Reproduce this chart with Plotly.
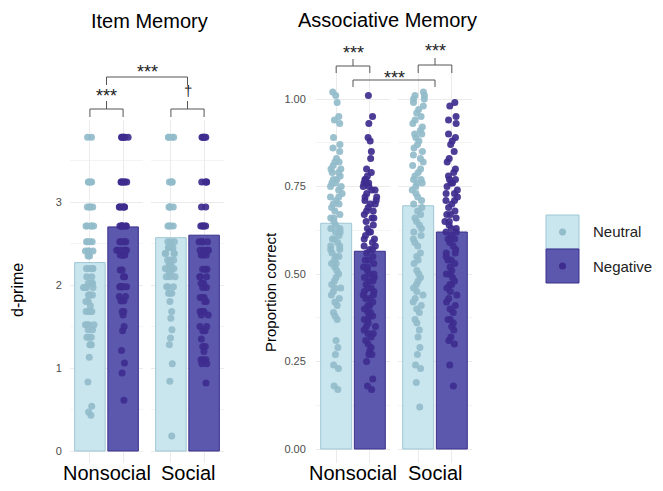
import plotly.graph_objects as go

W, H = 663, 491

# ---------------- data ----------------
valences = ["Neutral", "Negative"]
social_conditions = ["Nonsocial", "Social"]

# bar heights (means)
item_mean_nonsocial = [2.27, 2.70]
item_mean_social = [2.57, 2.60]
assoc_mean_nonsocial = [0.645, 0.565]
assoc_mean_social = [0.695, 0.620]

# individual participants: item memory (d-prime)
item_nonsocial_neutral = [3.78, 3.78, 3.24, 3.24, 3.24, 3.24, 2.94, 2.94, 2.94, 2.94,
                          2.71, 2.71, 2.71, 2.71, 2.71, 2.52, 2.52, 2.52, 2.52,
                          2.41, 2.41, 2.41, 2.41, 2.35, 2.35, 2.20, 2.20, 2.20, 2.20,
                          2.10, 2.10, 2.02, 2.02, 2.02, 1.97, 1.97, 1.97, 1.97,
                          1.88, 1.88, 1.88, 1.88, 1.80, 1.80, 1.75, 1.68, 1.68, 1.68, 1.68,
                          1.52, 1.52, 1.52, 1.52, 1.46, 1.46, 1.37, 1.37, 1.37,
                          1.28, 1.28, 1.28, 1.13, 0.83, 0.54, 0.47, 0.43]
item_nonsocial_negative = [3.78, 3.78, 3.78, 3.78, 3.78, 3.78, 3.24, 3.24, 3.24, 3.24, 3.24, 3.24,
                           2.94, 2.94, 2.94, 2.94, 2.94, 2.94, 2.71, 2.71, 2.71, 2.71, 2.71, 2.71, 2.71,
                           2.52, 2.52, 2.52, 2.52, 2.52, 2.42, 2.42, 2.42, 2.42, 2.42, 2.42,
                           2.36, 2.36, 2.36, 2.36, 2.36, 2.18, 2.18, 2.10, 2.10,
                           1.98, 1.98, 1.98, 1.98, 1.98, 1.98, 1.86, 1.86, 1.81, 1.81, 1.81,
                           1.68, 1.68, 1.64, 1.50, 1.45, 1.21, 1.06, 0.94, 0.61]
item_social_neutral = [3.78, 3.78, 3.78, 3.78, 3.24, 3.24, 3.24, 3.24, 2.94, 2.94, 2.94, 2.94,
                       2.71, 2.71, 2.71, 2.71, 2.52, 2.52, 2.52, 2.45, 2.45, 2.45, 2.45,
                       2.38, 2.38, 2.38, 2.38, 2.30, 2.30, 2.30, 2.25, 2.25,
                       2.20, 2.20, 2.20, 2.20, 2.15, 2.15, 2.10, 2.10, 2.10,
                       1.98, 1.98, 1.98, 1.90, 1.90, 1.90, 1.80, 1.68, 1.60, 1.46,
                       1.36, 1.28, 1.05, 0.84, 0.18]
item_social_negative = [3.78, 3.78, 3.78, 3.78, 3.78, 3.24, 3.24, 3.24, 3.24, 2.94, 2.94,
                        2.71, 2.71, 2.71, 2.71, 2.71, 2.52, 2.52, 2.52, 2.52,
                        2.42, 2.42, 2.42, 2.42, 2.36, 2.36, 2.36, 2.19, 2.19, 2.19,
                        2.10, 2.10, 2.10, 2.02, 2.02, 1.97, 1.97, 1.85, 1.85, 1.85,
                        1.80, 1.80, 1.68, 1.68, 1.68, 1.68, 1.64, 1.64, 1.50, 1.50,
                        1.45, 1.45, 1.35, 1.26, 1.26, 1.20, 1.10, 1.10, 1.10, 1.05, 1.05, 0.82]

# individual participants: associative memory (proportion correct)
assoc_nonsocial_neutral = [1.02, 1.01, 0.99, 0.95, 0.94, 0.93, 0.89, 0.87, 0.86, 0.85,
                           0.83, 0.82, 0.82, 0.81, 0.80, 0.80, 0.79, 0.79,
                           0.78, 0.77, 0.77, 0.76, 0.76, 0.75, 0.75, 0.74,
                           0.73, 0.72, 0.72, 0.71, 0.70, 0.70, 0.69, 0.68,
                           0.67, 0.66, 0.66, 0.65, 0.64, 0.63, 0.63, 0.62, 0.62, 0.61,
                           0.60, 0.60, 0.59, 0.58, 0.58, 0.57, 0.57, 0.56,
                           0.55, 0.55, 0.54, 0.53, 0.53, 0.52, 0.51, 0.50,
                           0.49, 0.48, 0.47, 0.46, 0.46, 0.45, 0.44, 0.43, 0.42, 0.41,
                           0.39, 0.38, 0.37, 0.31, 0.29, 0.27, 0.24, 0.23, 0.18, 0.17]
assoc_nonsocial_negative = [1.01, 0.95, 0.93, 0.89, 0.88, 0.85, 0.83, 0.80, 0.79,
                            0.78, 0.77, 0.77, 0.76, 0.76, 0.76, 0.75, 0.75,
                            0.74, 0.74, 0.73, 0.72, 0.72, 0.71, 0.71, 0.70, 0.70, 0.69,
                            0.68, 0.68, 0.67, 0.66, 0.66, 0.65, 0.64, 0.63,
                            0.62, 0.62, 0.61, 0.60, 0.60,
                            0.59, 0.58, 0.58, 0.57, 0.57, 0.56, 0.55, 0.54,
                            0.54, 0.53, 0.52, 0.52, 0.51, 0.50, 0.50, 0.49, 0.49, 0.48,
                            0.48, 0.47, 0.46, 0.46, 0.45, 0.45, 0.44, 0.44, 0.43, 0.43,
                            0.42, 0.41, 0.41, 0.40, 0.39, 0.39, 0.38, 0.38, 0.37, 0.37,
                            0.36, 0.35, 0.35, 0.34, 0.33, 0.33, 0.32, 0.31,
                            0.30, 0.29, 0.28, 0.27, 0.27, 0.25, 0.20, 0.18, 0.17]
assoc_social_neutral = [1.02, 1.01, 1.01, 1.00, 1.00, 0.99, 0.98, 0.97, 0.96, 0.95, 0.94, 0.93,
                        0.92, 0.91, 0.90, 0.90, 0.89, 0.88, 0.87, 0.86, 0.85, 0.84, 0.83,
                        0.82, 0.81, 0.80, 0.79, 0.78, 0.77, 0.77, 0.76, 0.76, 0.75, 0.74,
                        0.73, 0.72, 0.71, 0.70, 0.69, 0.68, 0.67, 0.66, 0.65,
                        0.64, 0.63, 0.62, 0.61, 0.60, 0.59, 0.58, 0.56, 0.55, 0.54,
                        0.53, 0.51, 0.50, 0.49, 0.48, 0.47, 0.46, 0.45, 0.44, 0.43,
                        0.42, 0.41, 0.40, 0.39, 0.37, 0.36, 0.34, 0.32,
                        0.29, 0.27, 0.24, 0.23, 0.19, 0.12]
assoc_social_negative = [0.99, 0.98, 0.95, 0.94, 0.93, 0.90, 0.89, 0.88, 0.87, 0.85,
                         0.83, 0.82, 0.80, 0.79, 0.78, 0.77, 0.77, 0.76, 0.76, 0.75,
                         0.74, 0.73, 0.73, 0.72, 0.71, 0.71, 0.70, 0.69,
                         0.68, 0.67, 0.67, 0.66, 0.65, 0.65, 0.64, 0.63,
                         0.63, 0.62, 0.62, 0.61, 0.60, 0.60, 0.59, 0.58,
                         0.57, 0.56, 0.56, 0.55, 0.54, 0.54, 0.53, 0.52,
                         0.51, 0.50, 0.50, 0.49, 0.48, 0.47, 0.47, 0.46,
                         0.45, 0.44, 0.43, 0.42, 0.41, 0.40, 0.39, 0.37, 0.37, 0.36, 0.35,
                         0.34, 0.32, 0.31, 0.30, 0.24, 0.18]

# ---------------- style ----------------
FONT = "Liberation Sans, Arial, Helvetica, sans-serif"
BAR_FILL = {"Neutral": "#c9e6ef", "Negative": "#5b58ae"}
BAR_LINE = {"Neutral": "#9ec7d4", "Negative": "#3b308c"}
PT_COL = {"Neutral": "#93bccb", "Negative": "#3e2c8e"}
GRID = "#ebebeb"
GRID_MINOR = "#f4f4f4"
BRACKET = "#555555"

CAT_RANGE = [-0.6, 1.6]
# facet pixel extents (left, right)
FACET_PX = {"x": (70, 143), "x2": (151, 224), "x3": (316, 390), "x4": (398, 472)}
ITEM_Y_PX = (120, 463)   # top, bottom
ASSOC_Y_PX = (71, 463)
ITEM_RANGE = [-(463 - 451) / 83.0, (451 - 120) / 83.0]
ASSOC_RANGE = [-(463 - 449) / 350.0, (449 - 71) / 350.0]


def pxx(p):
    return p / W


def pxy(p):
    return 1 - p / H


def cat_x(ax, v):
    a, b = FACET_PX[ax]
    return pxx(a + (v - CAT_RANGE[0]) / (CAT_RANGE[1] - CAT_RANGE[0]) * (b - a))


fig = go.Figure()

panels = [
    ("x", "y", item_mean_nonsocial, [item_nonsocial_neutral, item_nonsocial_negative]),
    ("x2", "y", item_mean_social, [item_social_neutral, item_social_negative]),
    ("x3", "y2", assoc_mean_nonsocial, [assoc_nonsocial_neutral, assoc_nonsocial_negative]),
    ("x4", "y2", assoc_mean_social, [assoc_social_neutral, assoc_social_negative]),
]

for xa, ya, means, pts in panels:
    fig.add_trace(go.Bar(
        x=valences, y=means, xaxis=xa, yaxis=ya, width=0.92,
        marker=dict(color=[BAR_FILL[v] for v in valences],
                    line=dict(color=[BAR_LINE[v] for v in valences], width=1)),
        showlegend=False, hoverinfo="skip"))
for xa, ya, means, pts in panels:
    for v, vals in zip(valences, pts):
        fig.add_trace(go.Box(
            y=vals, x0=v, xaxis=xa, yaxis=ya, width=0.9,
            boxpoints="all", jitter=0.46, pointpos=0,
            fillcolor="rgba(0,0,0,0)", line=dict(width=0, color="rgba(0,0,0,0)"),
            marker=dict(color=PT_COL[v], size=7, opacity=0.92, line=dict(width=0)),
            showlegend=False, hoverinfo="y"))

xcommon = dict(type="category", categoryorder="array", categoryarray=valences,
               range=CAT_RANGE, showgrid=True, gridcolor=GRID, gridwidth=1,
               showticklabels=False, ticks="", zeroline=False, showline=False,
               fixedrange=True)
layout_axes = {}
for xa, ya in [("x", "y"), ("x2", "y"), ("x3", "y2"), ("x4", "y2")]:
    a, b = FACET_PX[xa]
    key = "xaxis" if xa == "x" else "xaxis" + xa[1:]
    layout_axes[key] = dict(xcommon, domain=[pxx(a), pxx(b)], anchor=ya)

layout_axes["yaxis"] = dict(
    domain=[pxy(ITEM_Y_PX[1]), pxy(ITEM_Y_PX[0])], range=ITEM_RANGE, anchor="x",
    tickmode="linear", tick0=0, dtick=1, showgrid=True, gridcolor=GRID, gridwidth=1,
    minor=dict(dtick=0.5, tick0=0, showgrid=True, gridcolor=GRID_MINOR, gridwidth=0.7),
    zeroline=False, showline=False, ticks="outside", ticklen=5,
    tickcolor="rgba(0,0,0,0)", tickfont=dict(size=11, color="#4d4d4d"), fixedrange=True)
layout_axes["yaxis2"] = dict(
    domain=[pxy(ASSOC_Y_PX[1]), pxy(ASSOC_Y_PX[0])], range=ASSOC_RANGE, anchor="x3",
    tickmode="linear", tick0=0, dtick=0.25, tickformat=".2f", showgrid=True,
    gridcolor=GRID, gridwidth=1,
    minor=dict(dtick=0.125, tick0=0, showgrid=True, gridcolor=GRID_MINOR, gridwidth=0.7),
    zeroline=False, showline=False, ticks="outside", ticklen=7,
    tickcolor="rgba(0,0,0,0)", tickfont=dict(size=11, color="#4d4d4d"), fixedrange=True)

shapes = []
annotations = []


def text_at(x_paper, y_px, text, size, color="#222222", xanchor="center", angle=0):
    annotations.append(dict(x=x_paper, y=pxy(y_px), xref="paper", yref="paper", text=text,
                            showarrow=False, xanchor=xanchor, yanchor="middle",
                            textangle=angle,
                            font=dict(size=size, color=color, family=FONT)))


def brace(xl, xr, yh, yleg, ytip=None):
    xm = (xl + xr) / 2
    if ytip is None:
        path = f"M {xl},{pxy(yleg)} L {xl},{pxy(yh)} L {xr},{pxy(yh)} L {xr},{pxy(yleg)}"
    else:
        path = (f"M {xl},{pxy(yleg)} L {xl},{pxy(yh)} L {xm},{pxy(yh)} L {xm},{pxy(ytip)}"
                f" M {xm},{pxy(yh)} L {xr},{pxy(yh)} L {xr},{pxy(yleg)}")
    shapes.append(dict(type="path", xref="paper", yref="paper", path=path,
                       line=dict(color=BRACKET, width=1)))


# Item memory brackets
brace(cat_x("x", 0), cat_x("x", 1), 109, 117, 101)
brace(cat_x("x2", 0), cat_x("x2", 1), 109, 117, 101)
brace(cat_x("x", 0.5), cat_x("x2", 0.5), 77, 85)
text_at(cat_x("x", 0.5), 96, "***", 18)
text_at(cat_x("x2", 0.5), 90, "†", 15)
text_at((cat_x("x", 0.5) + cat_x("x2", 0.5)) / 2, 72, "***", 18)

# Associative memory brackets
brace(cat_x("x3", 0), cat_x("x3", 1), 66, 73, 59)
brace(cat_x("x4", 0), cat_x("x4", 1), 65, 73, 58)
brace(cat_x("x3", 0.5), cat_x("x4", 0.5), 80, 87)
text_at(cat_x("x3", 0.5), 53, "***", 18)
text_at(cat_x("x4", 0.5), 51, "***", 18)
text_at((cat_x("x3", 0.5) + cat_x("x4", 0.5)) / 2, 78, "***", 18)

# facet labels (bottom strips)
for xa, cond in [("x", social_conditions[0]), ("x2", social_conditions[1]),
                 ("x3", social_conditions[0]), ("x4", social_conditions[1])]:
    text_at(cat_x(xa, 0.5), 473, cond, 20, color="black")

# panel titles
text_at(pxx(149), 21, "Item Memory", 20, color="black")
text_at(pxx(387), 20, "Associative Memory", 20, color="black")

# y-axis titles
text_at(pxx(17), 290, "d-prime", 16, color="black", angle=-90)
text_at(pxx(270), 292, "Proportion correct", 15, color="black", angle=-90)

# legend (drawn manually to match key size)
for i, v in enumerate(valences):
    y0, y1 = 215 + i * 34, 249 + i * 34
    shapes.append(dict(type="rect", xref="paper", yref="paper",
                       x0=pxx(546), x1=pxx(579), y0=pxy(y1), y1=pxy(y0),
                       fillcolor=BAR_FILL[v], line=dict(color=BAR_LINE[v], width=1)))
    cy = (y0 + y1) / 2
    shapes.append(dict(type="circle", xref="paper", yref="paper",
                       x0=pxx(559), x1=pxx(566), y0=pxy(cy + 3.5), y1=pxy(cy - 3.5),
                       fillcolor=PT_COL[v], line=dict(width=0)))
    text_at(pxx(591), cy, v, 15, xanchor="left")

fig.update_layout(
    width=W, height=H, autosize=False,
    margin=dict(l=0, r=0, t=0, b=0),
    paper_bgcolor="white", plot_bgcolor="white",
    barmode="overlay", boxmode="overlay", showlegend=False,
    font=dict(family=FONT),
    shapes=shapes, annotations=annotations,
    **layout_axes)

fig.write_html("out.html", config={"displayModeBar": False},
               post_script="document.body.style.margin='0px';")
